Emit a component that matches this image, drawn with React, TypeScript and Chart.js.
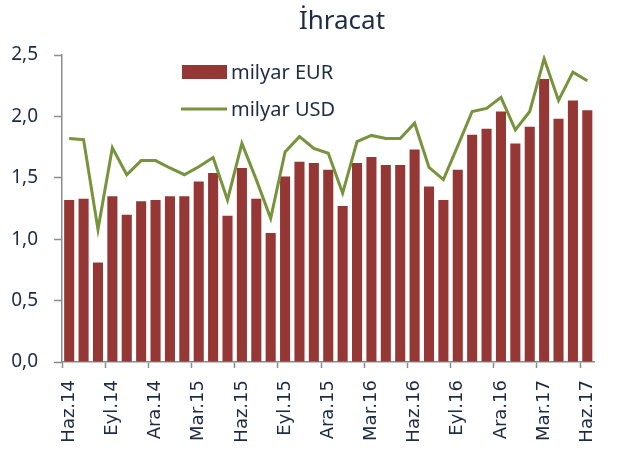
import React, { useEffect, useRef } from "react";
import { Chart, registerables } from "chart.js";

Chart.register(...registerables);

const categories = [
  "Haz.14", "Tem.14", "Ağu.14", "Eyl.14", "Eki.14", "Kas.14", "Ara.14", "Oca.15", "Şub.15",
  "Mar.15", "Nis.15", "May.15", "Haz.15", "Tem.15", "Ağu.15", "Eyl.15", "Eki.15", "Kas.15",
  "Ara.15", "Oca.16", "Şub.16", "Mar.16", "Nis.16", "May.16", "Haz.16", "Tem.16", "Ağu.16",
  "Eyl.16", "Eki.16", "Kas.16", "Ara.16", "Oca.17", "Şub.17", "Mar.17", "Nis.17", "May.17",
  "Haz.17",
];

const eurValues = [
  1.32, 1.33, 0.81, 1.35, 1.2, 1.31, 1.32, 1.35, 1.35,
  1.47, 1.54, 1.19, 1.58, 1.33, 1.05, 1.51, 1.63, 1.62,
  1.565, 1.27, 1.62, 1.67, 1.605, 1.605, 1.73, 1.43, 1.32,
  1.565, 1.85, 1.9, 2.04, 1.78, 1.915, 2.305, 1.98, 2.13,
  2.05,
];

const usdValues = [
  1.82, 1.81, 1.08, 1.745, 1.525, 1.64, 1.64, 1.58, 1.525,
  1.59, 1.665, 1.32, 1.78, 1.485, 1.17, 1.71, 1.835, 1.74,
  1.7, 1.375, 1.795, 1.845, 1.82, 1.82, 1.945, 1.585, 1.485,
  1.76, 2.04, 2.065, 2.155, 1.89, 2.04, 2.47, 2.13, 2.36,
  2.29,
];

const yTicks = [0, 0.5, 1, 1.5, 2, 2.5];

const TITLE = "İhracat";
const EUR_LABEL = "milyar EUR";
const USD_LABEL = "milyar USD";

const TEXT = "#1d2b44";
const AXIS = "#8c8c8c";
const RED = "#953735";
const GREEN = "#77933c";

const overlayPlugin = {
  id: "overlay",
  afterDraw(chart: any) {
    const ctx = chart.ctx;
    ctx.save();
    ctx.fillStyle = TEXT;
    ctx.font = "26px 'Noto Sans'";
    ctx.textAlign = "center";
    ctx.textBaseline = "alphabetic";
    ctx.fillText(TITLE, 342, 29);

    // legend
    ctx.fillStyle = RED;
    ctx.fillRect(182, 65, 45, 14);
    ctx.strokeStyle = GREEN;
    ctx.lineWidth = 3;
    ctx.beginPath();
    ctx.moveTo(181, 109);
    ctx.lineTo(227, 109);
    ctx.stroke();
    ctx.fillStyle = TEXT;
    ctx.font = "20px 'Noto Sans'";
    ctx.textAlign = "left";
    ctx.fillText(EUR_LABEL, 231, 79);
    ctx.fillText(USD_LABEL, 231, 116);
    ctx.restore();
  },
};

export default function App() {
  const ref = useRef<HTMLCanvasElement | null>(null);

  useEffect(() => {
    if (!ref.current) return;
    const chart = new Chart(ref.current, {
      type: "bar",
      data: {
        labels: categories,
        datasets: [
          {
            type: "line",
            label: USD_LABEL,
            data: usdValues,
            borderColor: GREEN,
            backgroundColor: GREEN,
            borderWidth: 3,
            pointRadius: 0,
            tension: 0,
            order: 0,
          } as any,
          {
            type: "bar",
            label: EUR_LABEL,
            data: eurValues,
            backgroundColor: RED,
            borderWidth: 0,
            barPercentage: 0.7,
            categoryPercentage: 1,
            order: 1,
          },
        ],
      },
      options: {
        animation: false,
        responsive: true,
        maintainAspectRatio: false,
        layout: { padding: { top: 55, left: 8, right: 7, bottom: 0 } },
        plugins: {
          legend: { display: false },
          title: { display: false },
          tooltip: { enabled: false },
        },
        scales: {
          x: {
            offset: true,
            grid: {
              offset: true,
              drawOnChartArea: false,
              drawTicks: true,
              tickLength: 6,
              tickColor: (c: any) => (c.index % 3 === 0 ? AXIS : "rgba(0,0,0,0)"),
              tickWidth: 1.5,
            },
            border: { color: AXIS, width: 1.5 },
            ticks: {
              autoSkip: false,
              maxRotation: 90,
              minRotation: 90,
              padding: 12,
              color: TEXT,
              font: { family: "'DejaVu Sans'", size: 18 },
              callback: (_v: any, i: number) => (i % 3 === 0 ? categories[i] : ""),
            },
            afterFit: (scale: any) => {
              scale.height = 89;
            },
          },
          y: {
            min: 0,
            max: 2.5,
            afterBuildTicks: (scale: any) => {
              scale.ticks = yTicks.map((v) => ({ value: v }));
            },
            grid: {
              drawOnChartArea: false,
              drawTicks: true,
              tickLength: 8,
              tickColor: AXIS,
              tickWidth: 1.5,
            },
            border: { color: AXIS, width: 1.5 },
            ticks: {
              padding: 16,
              color: TEXT,
              font: { family: "'Noto Sans'", size: 19 },
              callback: (v: any) => Number(v).toFixed(1).replace(".", ","),
            },
            afterFit: (scale: any) => {
              scale.width = 54;
            },
          },
        },
      },
      plugins: [overlayPlugin],
    });
    return () => chart.destroy();
  }, []);

  return (
    <div style={{ position: "fixed", left: 0, top: 0, width: 621, height: 451, background: "#fff" }}>
      <canvas ref={ref} />
    </div>
  );
}
